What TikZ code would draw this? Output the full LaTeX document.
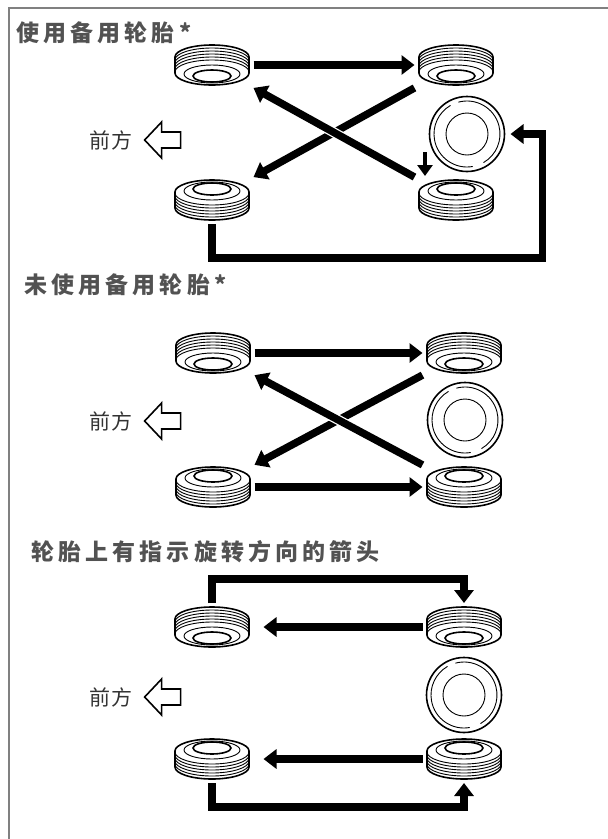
\documentclass[tikz,border=0pt]{standalone}
\usepackage{fontspec}
\newfontfamily\cjkhead[LetterSpace=18]{Noto Sans CJK SC}
\newfontfamily\cjkfront[LetterSpace=4]{Noto Sans CJK SC}
\usetikzlibrary{arrows.meta,positioning}
\tikzset{
  tyreline/.style={line width=1.6pt},
  treadline/.style={line width=0.9pt},
  frameline/.style={line width=1.5pt,black!50},
  tyrebox/.style={minimum width=75pt,minimum height=40pt,inner sep=0pt,outer sep=4pt},
  sparebox/.style={circle,draw,tyreline,minimum size=75pt,inner sep=0pt,outer sep=6pt},
  bigarrow/.style={line width=7.5pt,line join=miter,-{Triangle[width=19pt,length=13pt]}},
  smallarrow/.style={line width=4.5pt,-{Triangle[width=15pt,length=11pt]}},
  ontop/.style={preaction={draw=white,line width=10pt,-}},
  heading/.style={anchor=west,inner sep=0pt,text=black!68,font=\cjkhead\bfseries\fontsize{23}{26}\selectfont},
  frontlabel/.style={inner sep=0pt,text=black!80,font=\cjkfront\fontsize{21}{24}\selectfont},
  frontarrow/.style={draw,line width=1.6pt,line join=miter},
  tyre/.pic={
    \draw[tyreline,fill=white] (-37,-8) arc[start angle=180,end angle=360,x radius=37,y radius=12]
      -- (37,8) arc[start angle=0,end angle=180,x radius=37,y radius=12] -- cycle;
    \foreach \k in {1,...,5}
      \draw[treadline] (-37,-8+3*\k) arc[start angle=180,end angle=360,x radius=37,y radius=12];
    \draw[treadline,fill=white] (0,9) ellipse[x radius=28,y radius=9];
    \draw[tyreline,fill=white] (0,11) ellipse[x radius=19,y radius=6];
  },
  spare/.pic={
    \draw[treadline] (0,0) circle[radius=21];
    \draw[treadline] (80:33) arc[start angle=80,end angle=240,radius=33];
    \draw[treadline] (255:33) arc[start angle=255,end angle=420,radius=33];
  }
}
\begin{document}
\begin{tikzpicture}[x=1pt,y=-1pt]
      \useasboundingbox (0,0) rectangle (608,839);
      \draw[frameline] (9,839) -- (9,8) -- (608,8);
      % headings
      \node[heading] (t1) at (16,33) {使用备用轮胎*};
      \node[heading] (t2) at (24,285) {未使用备用轮胎*};
      \node[heading] (t3) at (31,552) {轮胎上有指示旋转方向的箭头};
      % tyres
      \foreach \n/\x/\y/\s in {
        a1/212/65/1, b1/456/65/1, c1/212/200/-1, d1/456/200/-1,
        a2/213/353/1, b2/464/353/1, c2/213/487/-1, d2/464/487/-1,
        a3/212/627/1, b3/464/627/1, c3/212/759/-1, d3/464/759/-1
      }{
        \node[tyrebox] (\n) at (\x,\y) {};
        \pic[yscale=\s] at (\n) {tyre};
      }
      \foreach \n/\x/\y in {s1/467/134, s2/465/420, s3/464/695}{
        \node[sparebox] (\n) at (\x,\y) {};
        \pic at (\n) {spare};
      }
      \foreach \n/\y in {1/140, 2/421, 3/697}{
        \node[frontlabel] (f\n) at (111,\y) {前方};
        \coordinate (g\n) at ([xshift=12pt]f\n.east);
        \draw[frontarrow] (g\n) -- ++(17,-18) -- ++(0,10) -- ++(19,0) -- ++(0,16)
          -- ++(-19,0) -- ++(0,10) -- cycle;
      }
      % with spare
      \draw[bigarrow] (a1) -- (b1);
      \draw[bigarrow] (b1) -- (c1);
      \draw[bigarrow,ontop] (d1) -- (a1);
      \coordinate (m1) at (425,152);
      \draw[smallarrow] (m1) -- (m1 |- d1.north);
      \draw[bigarrow] (c1.south) -- ++(0,34) -| ([xshift=32pt]s1.east) -- (s1.east);
      % without spare
      \draw[bigarrow] (a2) -- (b2);
      \draw[bigarrow] (c2) -- (d2);
      \draw[bigarrow] (b2) -- (c2);
      \draw[bigarrow,ontop] (d2) -- (a2);
      % directional tyres
      \draw[bigarrow] (a3.north) -- ++(0,-24) -| (b3.north);
      \draw[bigarrow,shorten >=10pt] (b3) -- (a3);
      \draw[bigarrow,shorten >=10pt] (d3) -- (c3);
      \draw[bigarrow] (c3.south) -- ++(0,24) -| (d3.south);
\end{tikzpicture}
\end{document}
